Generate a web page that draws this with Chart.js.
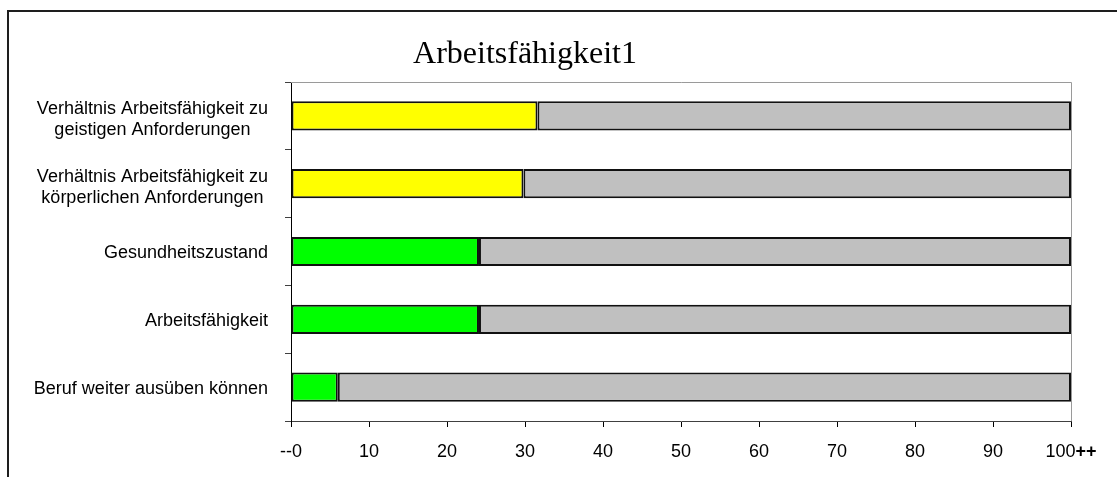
<!DOCTYPE html>
<html>
<head>
<meta charset="utf-8">
<script src="https://cdn.jsdelivr.net/npm/chart.js@4/dist/chart.umd.min.js"></script>
<style>
  html, body { margin: 0; padding: 0; background: #ffffff; }
  #wrap { position: relative; width: 1117px; height: 477px; }
</style>
</head>
<body>
<div id="wrap"><canvas id="chart" width="1117" height="477"></canvas></div>
<script>
// Category labels (wrapped lines as arrays)
const categories = [
  ['Verhältnis Arbeitsfähigkeit zu', 'geistigen Anforderungen'],
  ['Verhältnis Arbeitsfähigkeit zu', 'körperlichen Anforderungen'],
  'Gesundheitszustand',
  'Arbeitsfähigkeit',
  'Beruf weiter ausüben können'
];
// Coloured share of each bar
const scoreValues = [31.6, 29.8, 24.1, 24.1, 6.0];
// Remaining grey share up to 100
const restValues = [68.4, 70.2, 75.9, 75.9, 94.0];
// Axis tick labels
const tickLabels = ['--0', '10', '20', '30', '40', '50', '60', '70', '80', '90', '100'];
const lastTickSuffix = '++';
const chartTitle = 'Arbeitsfähigkeit1';

const scoreColors = ['#FFFF00', '#FFFF00', '#00FF00', '#00FF00', '#00FF00'];
const SANS = '"Liberation Sans", Arial, sans-serif';
const SERIF = '"Liberation Serif", "Times New Roman", serif';

const decorPlugin = {
  id: 'decor',
  beforeDatasetsDraw(chart) {
    const { ctx, chartArea: a } = chart;
    ctx.save();
    ctx.strokeStyle = '#9a9a9a';
    ctx.lineWidth = 1;
    ctx.beginPath();
    ctx.moveTo(a.left, a.top + 0.5);
    ctx.lineTo(a.right + 0.5, a.top + 0.5);
    ctx.lineTo(a.right + 0.5, a.bottom);
    ctx.stroke();
    ctx.restore();
  },
  afterDraw(chart) {
    const { ctx, chartArea: a } = chart;
    const yScale = chart.scales.y;
    const xScale = chart.scales.x;
    ctx.save();

    // outer frame
    ctx.strokeStyle = '#1e1e1e';
    ctx.lineWidth = 2;
    ctx.beginPath();
    ctx.moveTo(8, 480);
    ctx.lineTo(8, 11);
    ctx.lineTo(1120, 11);
    ctx.stroke();

    // title
    ctx.fillStyle = '#000';
    ctx.font = '32px ' + SERIF;
    ctx.textAlign = 'center';
    ctx.textBaseline = 'alphabetic';
    ctx.fillText(chartTitle, 525, 63);

    // category labels, right aligned; wrapped lines centred as a block
    ctx.font = '18px ' + SANS;
    const rightEdge = 268;
    const lineGap = 21;
    categories.forEach((lab, i) => {
      const lines = Array.isArray(lab) ? lab : [lab];
      const yc = yScale.getPixelForValue(i) + (lines.length > 1 ? 2 : 0);
      const maxW = Math.max(...lines.map(l => ctx.measureText(l).width));
      const cx = rightEdge - maxW / 2;
      ctx.textAlign = 'center';
      lines.forEach((l, k) => {
        const capCenter = yc + (k - (lines.length - 1) / 2) * lineGap;
        ctx.fillText(l, cx, capCenter + 6.4);
      });
    });

    // last x tick label with bold suffix
    const px = xScale.getPixelForValue(100);
    const main = tickLabels[tickLabels.length - 1];
    ctx.font = '18px ' + SANS;
    const w1 = ctx.measureText(main).width;
    ctx.font = 'bold 18px ' + SANS;
    const w2 = ctx.measureText(lastTickSuffix).width;
    const x0 = px - (w1 + w2) / 2;
    const by = a.bottom + 35.5;
    ctx.textAlign = 'left';
    ctx.font = '18px ' + SANS;
    ctx.fillText(main, x0, by);
    ctx.font = 'bold 18px ' + SANS;
    ctx.fillText(lastTickSuffix, x0 + w1, by);
    ctx.restore();
  }
};

new Chart(document.getElementById('chart'), {
  type: 'bar',
  data: {
    labels: categories,
    datasets: [
      {
        data: scoreValues,
        backgroundColor: scoreColors,
        borderColor: '#111',
        borderWidth: 2,
        borderSkipped: false,
        barPercentage: 0.43,
        categoryPercentage: 1
      },
      {
        data: restValues,
        backgroundColor: '#C0C0C0',
        borderColor: '#111',
        borderWidth: 2,
        borderSkipped: false,
        barPercentage: 0.43,
        categoryPercentage: 1
      }
    ]
  },
  options: {
    indexAxis: 'y',
    responsive: false,
    animation: false,
    events: [],
    layout: { padding: { left: 0, top: 82, right: 46, bottom: 0 } },
    plugins: { legend: { display: false }, title: { display: false }, tooltip: { enabled: false } },
    scales: {
      x: {
        stacked: true,
        min: 0,
        max: 100,
        afterFit(s) { s.height = 56; },
        border: { display: true, color: '#404040', width: 1 },
        grid: { drawOnChartArea: false, drawTicks: true, tickLength: 6, color: '#000' },
        ticks: {
          stepSize: 10,
          maxRotation: 0,
          autoSkip: false,
          padding: 14,
          color: '#000',
          font: { family: SANS, size: 18 },
          callback(value, index) {
            return index === tickLabels.length - 1 ? '' : tickLabels[index];
          }
        }
      },
      y: {
        stacked: true,
        afterFit(s) { s.width = 291; },
        border: { display: true, color: '#000', width: 1 },
        grid: { drawOnChartArea: false, drawTicks: true, tickLength: 6, color: '#404040', offset: true },
        ticks: { display: false }
      }
    }
  },
  plugins: [decorPlugin]
});
</script>
</body>
</html>
